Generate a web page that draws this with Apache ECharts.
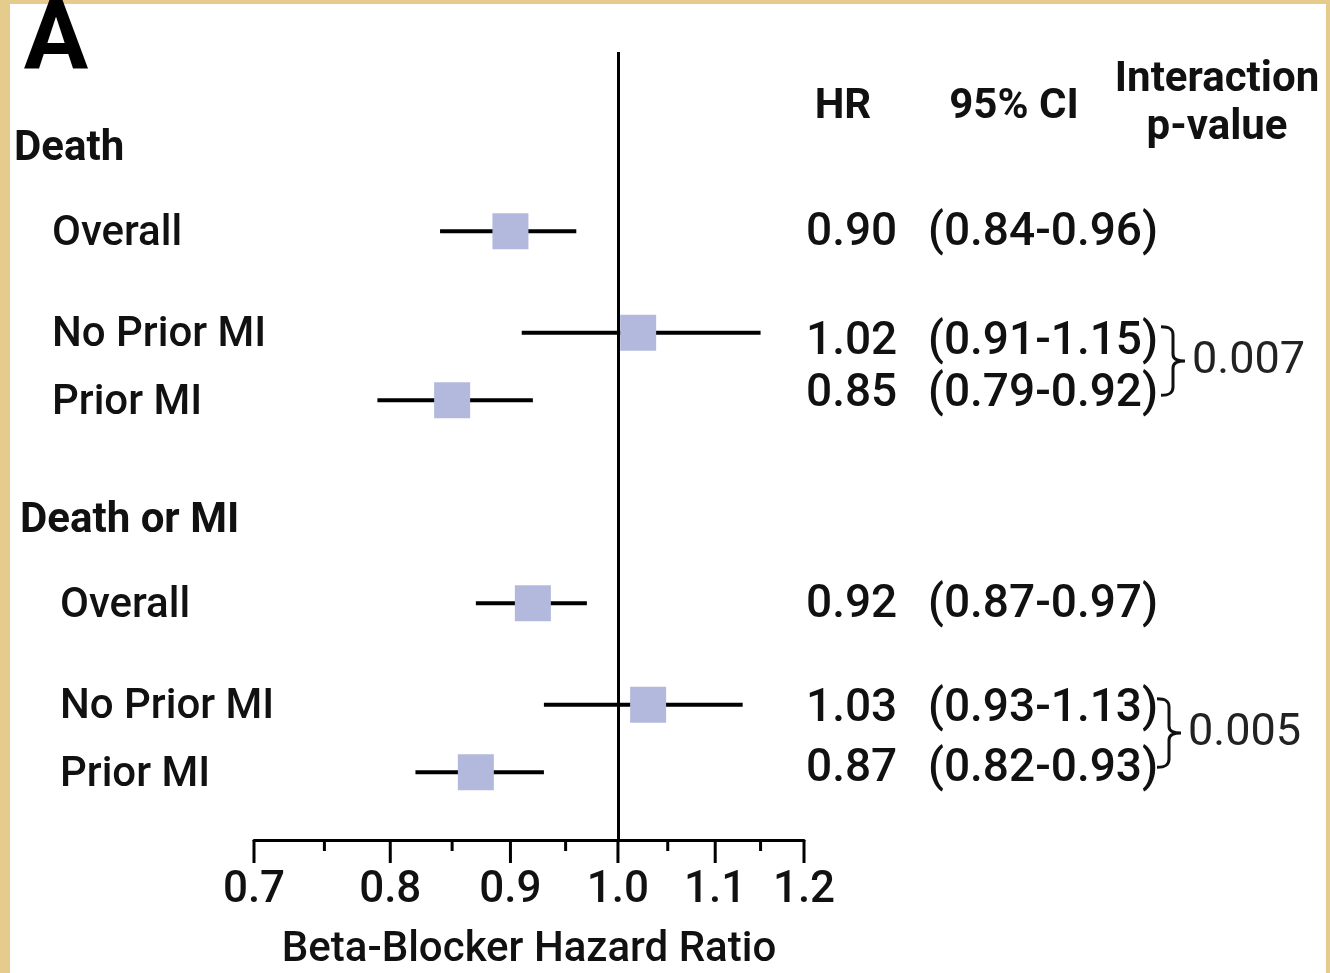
<!DOCTYPE html>
<html>
<head>
<meta charset="utf-8">
<script src="https://cdn.jsdelivr.net/npm/echarts@6/dist/echarts.min.js"></script>
<style>html,body{margin:0;padding:0;background:#fff}#chart{width:1330px;height:973px}</style>
</head>
<body>
<div id="chart"></div>
<script>
// ---------------- data ----------------
const panelLabel = 'A';
const groups = ['Death', 'Death or MI'];
const subgroups = ['Overall', 'No Prior MI', 'Prior MI', 'Overall', 'No Prior MI', 'Prior MI'];
const groupOfRow = [0, 0, 0, 1, 1, 1];
const hr = [0.90, 1.02, 0.85, 0.92, 1.03, 0.87];
const ciLow = [0.84, 0.91, 0.79, 0.87, 0.93, 0.82];
const ciHigh = [0.96, 1.15, 0.92, 0.97, 1.13, 0.93];
const hrLabels = ['0.90', '1.02', '0.85', '0.92', '1.03', '0.87'];
const ciLabels = ['(0.84-0.96)', '(0.91-1.15)', '(0.79-0.92)', '(0.87-0.97)', '(0.93-1.13)', '(0.82-0.93)'];
const interactionP = ['0.007', '0.005'];
const interactionRows = [[1, 2], [4, 5]];
const xMajorTicks = [0.7, 0.8, 0.9, 1.0, 1.1, 1.2];
const xTickLabels = ['0.7', '0.8', '0.9', '1.0', '1.1', '1.2'];
const xMinorTicks = [0.75, 0.85, 0.95, 1.05, 1.15];
const columnHeaders = ['HR', '95% CI', 'Interaction', 'p-value'];
const xAxisTitle = 'Beta-Blocker Hazard Ratio';
const referenceHR = 1.0;

// ---------------- layout ----------------
const headerSlot = [0, 22];
const rowSlot = [5, 11, 15, 27, 33, 37];
const textShift = [0, 0.45, -0.45, 0, 0.15, -0.3];   // value-column rows sit slightly closer together
const Y_MIN = -5.6, Y_MAX = 41;
const headerX = [14, 20];
const rowLabelX = [52, 60];
const hrColX = 806;
const ciColX = 928;
const braceX = [1161, 1157];
const FONT = 'Roboto, "Noto Sans", sans-serif';
const INK = '#111';
const BOX = '#b3b9dd';
const W_TEXT = 500;

function txt(x, y, text, size, weight, align, color) {
  return {
    type: 'text',
    style: {
      x: x, y: y, text: text, fill: color || INK,
      fontSize: size, fontFamily: FONT, fontWeight: weight || W_TEXT,
      align: align || 'left', verticalAlign: 'middle'
    }
  };
}

const chart = echarts.init(document.getElementById('chart'), null, {renderer: 'canvas'});

const option = {
  animation: false,
  backgroundColor: '#e5cb8c',
  grid: {left: 254, right: 526, top: 52, bottom: 133, outerBoundsMode: 'none'},
  xAxis: {
    type: 'log', logBase: 10, min: 0.7, max: 1.2,
    axisLine: {show: true, onZero: false, lineStyle: {color: '#000', width: 3}},
    axisTick: {show: false}, axisLabel: {show: false}, splitLine: {show: false},
    name: xAxisTitle, nameLocation: 'middle', nameGap: 110,
    nameTextStyle: {fontSize: 42, color: INK, fontFamily: FONT, fontWeight: W_TEXT, verticalAlign: 'middle'}
  },
  yAxis: {
    type: 'value', inverse: true, min: Y_MIN, max: Y_MAX, show: false
  },
  graphic: [
    {type: 'rect', z: -100, silent: true, shape: {x: 10, y: 4, width: 1316, height: 969}, style: {fill: '#fff'}},
    Object.assign(txt(56, 44, panelLabel, 96, 'bold', 'center', '#000'), {z: 10}),
    txt(843, 107, columnHeaders[0], 42, 'bold', 'center'),
    txt(1014, 107, columnHeaders[1], 42, 'bold', 'center'),
    txt(1217, 80, columnHeaders[2], 42, 'bold', 'center'),
    txt(1217, 128, columnHeaders[3], 42, 'bold', 'center')
  ],
  series: [
    {
      name: 'ci', type: 'custom', silent: true, z: 2,
      data: hr.map((v, i) => [ciLow[i], ciHigh[i], rowSlot[i]]),
      encode: {x: [0, 1], y: 2},
      renderItem: function (params, api) {
        const a = api.coord([api.value(0), api.value(2)]);
        const b = api.coord([api.value(1), api.value(2)]);
        return {type: 'line', shape: {x1: a[0], y1: a[1], x2: b[0], y2: b[1]},
                style: {stroke: '#000', lineWidth: 4}};
      },
      markLine: {
        silent: true, symbol: 'none', label: {show: false},
        lineStyle: {color: '#000', width: 3, type: 'solid'},
        data: [{xAxis: referenceHR}]
      }
    },
    {
      name: 'HR', type: 'scatter', silent: true, z: 4,
      symbol: 'rect', symbolSize: 36,
      itemStyle: {color: BOX, opacity: 1},
      data: hr.map((v, i) => [v, rowSlot[i]])
    },
    {
      name: 'rowText', type: 'custom', silent: true, z: 5,
      data: hr.map((v, i) => [v, rowSlot[i], i]),
      encode: {x: 0, y: 1},
      renderItem: function (params, api) {
        const i = api.value(2);
        const y = api.coord([api.value(0), api.value(1)])[1];
        const yt = api.coord([api.value(0), api.value(1) + textShift[i]])[1];
        return {type: 'group', children: [
          txt(rowLabelX[groupOfRow[i]], y + 3, subgroups[i], 42),
          txt(hrColX, yt + 2, hrLabels[i], 46),
          txt(ciColX, yt + 2, ciLabels[i], 46)
        ]};
      }
    },
    {
      name: 'groupText', type: 'custom', silent: true, z: 5,
      data: groups.map((g, k) => [1, headerSlot[k], k]),
      encode: {x: 0, y: 1},
      renderItem: function (params, api) {
        const k = api.value(2);
        const y = api.coord([1, api.value(1)])[1];
        return txt(headerX[k], y + 3, groups[k], 42, 'bold');
      }
    },
    {
      name: 'interaction', type: 'custom', silent: true, z: 5,
      data: interactionRows.map((r, k) => [1, rowSlot[r[0]], rowSlot[r[1]], k]),
      encode: {x: 0, y: [1, 2]},
      renderItem: function (params, api) {
        const k = api.value(3);
        const y1 = api.coord([1, api.value(1)])[1] - 6;
        const y2 = api.coord([1, api.value(2)])[1] - 5;
        const bx = braceX[k];
        const w = 24;
        return {type: 'group', children: [
          {type: 'path', shape: {
              pathData: 'M0,0 C7,0 10,3 10,12 L10,40 C10,47 13,50 20,50 C13,50 10,53 10,60 L10,88 C10,97 7,100 0,100',
              x: bx, y: y1, width: w, height: y2 - y1, layout: 'cover'},
           style: {stroke: '#111', lineWidth: 3, fill: null}},
          txt(bx + w + 7, (y1 + y2) / 2 + 1, interactionP[k], 45, 'normal', 'left', '#222')
        ]};
      }
    },
    {
      name: 'majorTicks', type: 'custom', silent: true, z: 5,
      data: xMajorTicks.map((v, k) => [v, Y_MAX, k]),
      encode: {x: 0, y: 1},
      renderItem: function (params, api) {
        const p = api.coord([api.value(0), api.value(1)]);
        return {type: 'group', children: [
          {type: 'line', shape: {x1: p[0], y1: p[1], x2: p[0], y2: p[1] + 23},
           style: {stroke: '#000', lineWidth: 3}},
          txt(p[0], p[1] + 51, xTickLabels[api.value(2)], 44, W_TEXT, 'center')
        ]};
      }
    },
    {
      name: 'minorTicks', type: 'custom', silent: true, z: 5,
      data: xMinorTicks.map(v => [v, Y_MAX]),
      encode: {x: 0, y: 1},
      renderItem: function (params, api) {
        const p = api.coord([api.value(0), api.value(1)]);
        return {type: 'line', shape: {x1: p[0], y1: p[1], x2: p[0], y2: p[1] + 11},
                style: {stroke: '#000', lineWidth: 3}};
      }
    }
  ]
};
chart.setOption(option);
</script>
</body>
</html>
